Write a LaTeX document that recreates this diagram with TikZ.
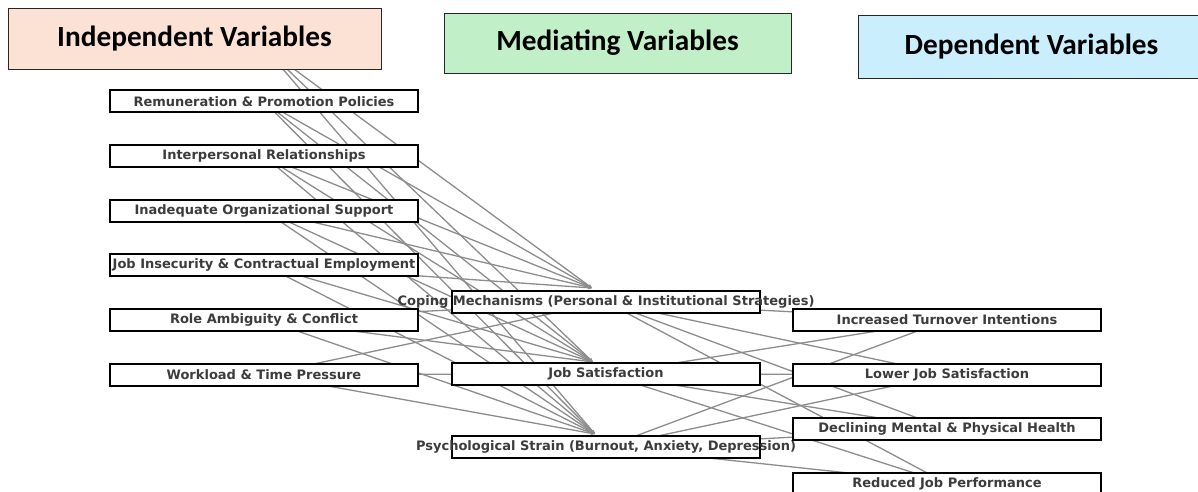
\documentclass[tikz,border=0pt]{standalone}
\usepackage{fontspec}
\setmainfont{DejaVu Sans}
\newfontfamily\hdrfont{Carlito}
\usetikzlibrary{arrows.meta,backgrounds}
\definecolor{indep}{HTML}{FBE2D5}
\definecolor{medi}{HTML}{C1F0C8}
\definecolor{depen}{HTML}{CAEEFB}
\definecolor{txt}{HTML}{3C3C3C}
\definecolor{edgegray}{HTML}{8C8C8C}
\begin{document}
\begin{tikzpicture}[x=1pt,y=-1pt,
  hdrbox/.style={draw=black!85, line width=0.8pt, inner sep=0pt, font=\hdrfont\bfseries\fontsize{29.3}{32}\selectfont, text=black},
  vbox/.style={draw=black, line width=2pt, fill=white, minimum width=308pt, minimum height=22pt, inner sep=0pt, font=\bfseries\fontsize{13}{15}\selectfont, text=txt},
  edge/.style={draw=edgegray, line width=1.3pt},
  inedge/.style={edge, -{Stealth[length=4pt,width=3.5pt]}}]
\useasboundingbox (0,0) rectangle (1198,492);
\clip (0,0) rectangle (1198,492);
% independent variables
\coordinate (i0) at (264,47);
\node[vbox] (i1) at (264,101.5) {\makebox[0pt]{Remuneration \& Promotion Policies}};
\node[vbox] (i2) at (264,156) {\makebox[0pt]{Interpersonal Relationships}};
\node[vbox] (i3) at (264,210.5) {\makebox[0pt]{Inadequate Organizational Support}};
\node[vbox] (i4) at (264,265) {\makebox[0pt]{Job Insecurity \& Contractual Employment}};
\node[vbox] (i5) at (264,319.5) {\makebox[0pt]{Role Ambiguity \& Conflict}};
\node[vbox] (i6) at (264,374.5) {\makebox[0pt]{Workload \& Time Pressure}};
% mediating variables
\node[vbox] (m1) at (606,302) {\makebox[0pt]{Coping Mechanisms (Personal \& Institutional Strategies)}};
\node[vbox] (m2) at (606,374) {\makebox[0pt]{Job Satisfaction}};
\node[vbox] (m3) at (606,447) {\makebox[0pt]{Psychological Strain (Burnout, Anxiety, Depression)}};
\coordinate (m1in) at (592,288);
\coordinate (m2in) at (593,362);
\coordinate (m3in) at (595,434);
% dependent variables
\node[vbox] (d1) at (947,320) {\makebox[0pt]{Increased Turnover Intentions}};
\node[vbox] (d2) at (947,374.5) {\makebox[0pt]{Lower Job Satisfaction}};
\node[vbox] (d3) at (947,429) {\makebox[0pt]{Declining Mental \& Physical Health}};
\node[vbox] (d4) at (947,483.5) {\makebox[0pt]{Reduced Job Performance}};
% headers
\node[hdrbox, fill=indep, minimum width=373pt, minimum height=61pt] (hi) at (194.5,38.5) {Independent Variables};
\node[hdrbox, fill=medi, minimum width=347pt, minimum height=60pt] (hm) at (617.5,43) {Mediating Variables};
\node[hdrbox, fill=depen, minimum width=347pt, minimum height=63pt] (hd) at (1031.5,46.5) {Dependent Variables};
\begin{pgfonlayer}{background}
  \foreach \s in {i0,i1,i2,i3,i4}{
    \draw[inedge] (\s.center) -- (m1in);
  }
  \draw[edge] (i5.center) -- (m1.center);
  \draw[edge] (i6.center) -- (m1.center);
  \foreach \s in {i0,i1,i2,i3,i4,i5}{
    \draw[inedge] (\s.center) -- (m2in);
  }
  \draw[edge] (i6.center) -- (m2.center);
  \foreach \s in {i0,i1,i2,i3,i4,i5,i6}{
    \draw[inedge] (\s.center) -- (m3in);
  }
  \foreach \m in {m1,m2,m3}{
    \foreach \d in {d1,d2,d3,d4}{
      \draw[edge] (\m.center) -- (\d.center);
    }
  }
\end{pgfonlayer}
\end{tikzpicture}
\end{document}
